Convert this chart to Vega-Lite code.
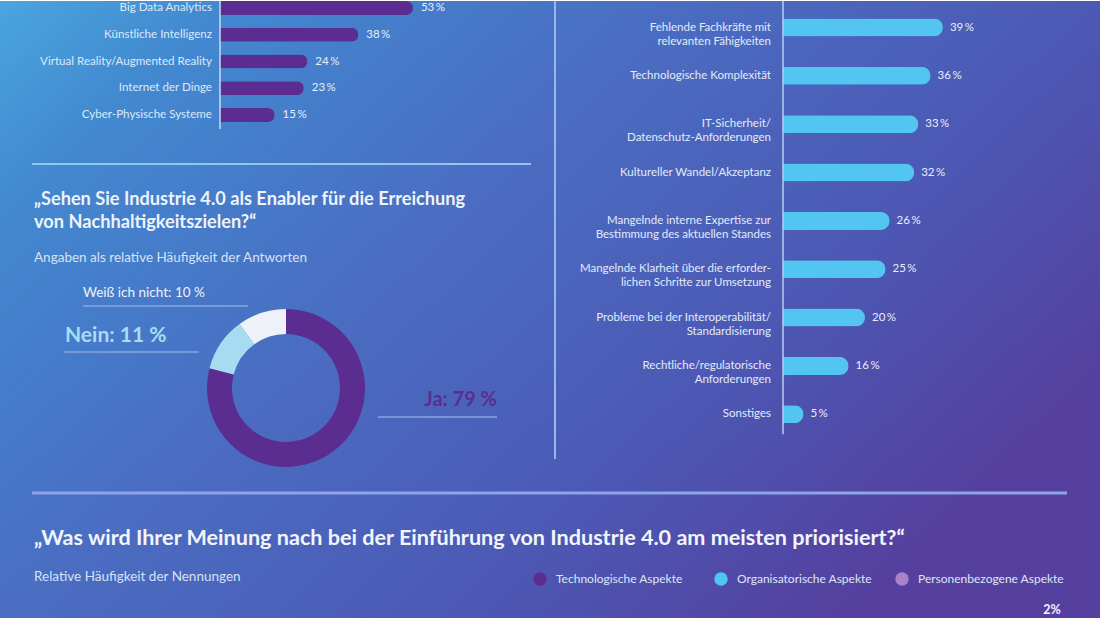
{
  "$schema": "https://vega.github.io/schema/vega-lite/v6.json",
  "width": 1100,
  "height": 618,
  "autosize": {"type": "fit", "contains": "padding"},
  "padding": 0,
  "config": {
    "view": {
      "stroke": null,
      "fill": {
        "gradient": "linear",
        "x1": 0, "y1": 0, "x2": 1, "y2": 0.6,
        "stops": [
          {"offset": 0, "color": "#4aa5de"},
          {"offset": 0.15, "color": "#4289d0"},
          {"offset": 0.45, "color": "#4a6dc2"},
          {"offset": 0.75, "color": "#4c58b4"},
          {"offset": 1, "color": "#55409f"}
        ]
      }
    },
    "text": {"font": "Lato", "color": "#e6eefa"},
    "locale": {
      "number": {"decimal": ",", "thousands": ".", "grouping": [3], "currency": ["", " €"], "percent": "\u2009%"}
    }
  },
  "datasets": {
    "technologien": [
      {"technologie": "Big Data Analytics", "anteil": 0.53},
      {"technologie": "Künstliche Intelligenz", "anteil": 0.38},
      {"technologie": "Virtual Reality/Augmented Reality", "anteil": 0.24},
      {"technologie": "Internet der Dinge", "anteil": 0.23},
      {"technologie": "Cyber-Physische Systeme", "anteil": 0.15}
    ],
    "hemmnisse": [
      {"hemmnis": "Fehlende Fachkräfte mit\nrelevanten Fähigkeiten", "anteil": 0.39},
      {"hemmnis": "Technologische Komplexität", "anteil": 0.36},
      {"hemmnis": "IT-Sicherheit/\nDatenschutz-Anforderungen", "anteil": 0.33},
      {"hemmnis": "Kultureller Wandel/Akzeptanz", "anteil": 0.32},
      {"hemmnis": "Mangelnde interne Expertise zur\nBestimmung des aktuellen Standes", "anteil": 0.26},
      {"hemmnis": "Mangelnde Klarheit über die erforder-\nlichen Schritte zur Umsetzung", "anteil": 0.25},
      {"hemmnis": "Probleme bei der Interoperabilität/\nStandardisierung", "anteil": 0.20},
      {"hemmnis": "Rechtliche/regulatorische\nAnforderungen", "anteil": 0.16},
      {"hemmnis": "Sonstiges", "anteil": 0.05}
    ],
    "enabler": [
      {"antwort": "Ja", "anteil": 0.79},
      {"antwort": "Nein", "anteil": 0.11},
      {"antwort": "Weiß ich nicht", "anteil": 0.10}
    ],
    "aspekte": [
      {"aspekt": "Technologische Aspekte"},
      {"aspekt": "Organisatorische Aspekte"},
      {"aspekt": "Personenbezogene Aspekte"}
    ]
  },
  "layer": [
    {
      "data": {"name": "technologien"},
      "encoding": {
        "y": {
          "field": "technologie", "type": "nominal",
          "scale": {"type": "point", "range": [7, 114], "padding": 0,
            "domain": ["Big Data Analytics", "Künstliche Intelligenz", "Virtual Reality/Augmented Reality", "Internet der Dinge", "Cyber-Physische Systeme"]},
          "axis": null
        }
      },
      "layer": [
        {
          "mark": {"type": "bar", "size": 14, "cornerRadiusEnd": 7, "color": "#5b2d90"},
          "encoding": {
            "x": {"field": "anteil", "type": "quantitative", "scale": {"domain": [0, 1], "range": [220, 584], "nice": false}, "axis": null}
          }
        },
        {
          "mark": {"type": "text", "align": "left", "baseline": "middle", "dx": 8, "fontSize": 11.5},
          "encoding": {
            "x": {"field": "anteil", "type": "quantitative", "axis": null},
            "text": {"field": "anteil", "type": "quantitative", "format": ".0%"}
          }
        },
        {
          "mark": {"type": "text", "align": "right", "baseline": "middle", "dx": -8, "fontSize": 11.6, "color": "#dce9f8"},
          "encoding": {
            "x": {"datum": 0, "type": "quantitative", "axis": null},
            "text": {"field": "technologie"}
          }
        },
        {
          "data": {"values": [{}]},
          "mark": {"type": "rule", "color": "#c3dcf5", "strokeWidth": 1.5, "yOffset": -7, "y2Offset": 14},
          "encoding": {
            "x": {"datum": 0, "type": "quantitative", "axis": null},
            "y": {"datum": "Big Data Analytics", "type": "nominal", "axis": null},
            "y2": {"datum": "Cyber-Physische Systeme"}
          }
        }
      ]
    },
    {
      "data": {"name": "hemmnisse"},
      "encoding": {
        "y": {
          "field": "hemmnis", "type": "nominal",
          "scale": {"type": "point", "range": [26.5, 413.3], "padding": 0,
            "domain": [
              "Fehlende Fachkräfte mit\nrelevanten Fähigkeiten",
              "Technologische Komplexität",
              "IT-Sicherheit/\nDatenschutz-Anforderungen",
              "Kultureller Wandel/Akzeptanz",
              "Mangelnde interne Expertise zur\nBestimmung des aktuellen Standes",
              "Mangelnde Klarheit über die erforder-\nlichen Schritte zur Umsetzung",
              "Probleme bei der Interoperabilität/\nStandardisierung",
              "Rechtliche/regulatorische\nAnforderungen",
              "Sonstiges"
            ]},
          "axis": null
        }
      },
      "layer": [
        {
          "mark": {"type": "bar", "size": 18, "cornerRadiusEnd": 9, "color": "#52c5f0"},
          "encoding": {
            "x": {"field": "anteil", "type": "quantitative", "scale": {"domain": [0, 1], "range": [783, 1193], "nice": false}, "axis": null}
          }
        },
        {
          "mark": {"type": "text", "align": "left", "baseline": "middle", "dx": 7, "fontSize": 11.5},
          "encoding": {
            "x": {"field": "anteil", "type": "quantitative", "axis": null},
            "text": {"field": "anteil", "type": "quantitative", "format": ".0%"}
          }
        },
        {
          "mark": {"type": "text", "align": "right", "baseline": "middle", "dx": -12, "fontSize": 11.5, "lineBreak": "\n", "lineHeight": 14, "color": "#e2ebf9"},
          "encoding": {
            "x": {"datum": 0, "type": "quantitative", "axis": null},
            "text": {"field": "hemmnis"}
          }
        },
        {
          "data": {"values": [{}]},
          "mark": {"type": "rule", "color": "#b8cdf2", "strokeWidth": 1.5, "yOffset": -26.5, "y2Offset": 20},
          "encoding": {
            "x": {"datum": 0, "type": "quantitative", "axis": null},
            "y": {"datum": "Fehlende Fachkräfte mit\nrelevanten Fähigkeiten", "type": "nominal", "axis": null},
            "y2": {"datum": "Sonstiges"}
          }
        }
      ]
    },
    {
      "data": {"values": [{}]},
      "layer": [
        {
          "mark": {"type": "rule", "color": "#8fc5f0", "strokeWidth": 2},
          "encoding": {
            "x": {"datum": 32, "type": "quantitative", "scale": {"domain": [0, 1100], "range": [0, 1100], "nice": false, "zero": false}, "axis": null},
            "x2": {"datum": 531},
            "y": {"datum": 163, "type": "quantitative", "scale": {"domain": [0, 618], "range": [0, 618], "nice": false, "zero": false}, "axis": null}
          }
        },
        {
          "mark": {"type": "rule", "color": "#9ab6ee", "strokeWidth": 2},
          "encoding": {
            "x": {"datum": 555, "type": "quantitative", "axis": null},
            "y": {"datum": 0, "type": "quantitative", "axis": null},
            "y2": {"datum": 458}
          }
        },
        {
          "mark": {"type": "rule", "color": "#8fa3e8", "strokeWidth": 3},
          "encoding": {
            "x": {"datum": 32, "type": "quantitative", "axis": null},
            "x2": {"datum": 1067},
            "y": {"datum": 492, "type": "quantitative", "axis": null}
          }
        },
        {
          "mark": {"type": "text", "align": "left", "baseline": "middle", "fontSize": 18.2, "fontWeight": "bold", "lineHeight": 23, "color": "#eef3fb",
            "text": ["„Sehen Sie Industrie 4.0 als Enabler für die Erreichung", "von Nachhaltigkeitszielen?“"]},
          "encoding": {
            "x": {"datum": 34, "type": "quantitative", "axis": null},
            "y": {"datum": 199, "type": "quantitative", "axis": null}
          }
        },
        {
          "mark": {"type": "text", "align": "left", "baseline": "middle", "fontSize": 13.5, "color": "#d5e2f5",
            "text": "Angaben als relative Häufigkeit der Antworten"},
          "encoding": {
            "x": {"datum": 34, "type": "quantitative", "axis": null},
            "y": {"datum": 257, "type": "quantitative", "axis": null}
          }
        },
        {
          "data": {"name": "enabler"},
          "mark": {"type": "arc", "outerRadius": 79, "innerRadius": 54},
          "encoding": {
            "x": {"datum": 286, "type": "quantitative", "axis": null},
            "y": {"datum": 387, "type": "quantitative", "axis": null},
            "theta": {"field": "anteil", "type": "quantitative", "stack": true},
            "order": {"field": "anteil", "sort": "descending"},
            "color": {"field": "antwort", "type": "nominal",
              "scale": {"domain": ["Ja", "Nein", "Weiß ich nicht"], "range": ["#5b2d90", "#a6dbf2", "#eef2f8"]},
              "legend": null}
          }
        },
        {
          "mark": {"type": "rule", "color": "#86a6e2", "strokeWidth": 1.5},
          "encoding": {
            "x": {"datum": 83, "type": "quantitative", "axis": null},
            "x2": {"datum": 248},
            "y": {"datum": 305, "type": "quantitative", "axis": null}
          }
        },
        {
          "mark": {"type": "rule", "color": "#86a6e2", "strokeWidth": 1.5},
          "encoding": {
            "x": {"datum": 64, "type": "quantitative", "axis": null},
            "x2": {"datum": 199},
            "y": {"datum": 351, "type": "quantitative", "axis": null}
          }
        },
        {
          "mark": {"type": "rule", "color": "#86a6e2", "strokeWidth": 1.5},
          "encoding": {
            "x": {"datum": 378, "type": "quantitative", "axis": null},
            "x2": {"datum": 497},
            "y": {"datum": 416, "type": "quantitative", "axis": null}
          }
        },
        {
          "mark": {"type": "text", "align": "left", "baseline": "middle", "fontSize": 13.5, "color": "#eef3fb", "text": "Weiß ich nicht: 10 %"},
          "encoding": {
            "x": {"datum": 83, "type": "quantitative", "axis": null},
            "y": {"datum": 292, "type": "quantitative", "axis": null}
          }
        },
        {
          "mark": {"type": "text", "align": "left", "baseline": "middle", "fontSize": 21, "fontWeight": "bold", "color": "#a9dcf3", "text": "Nein: 11 %"},
          "encoding": {
            "x": {"datum": 65, "type": "quantitative", "axis": null},
            "y": {"datum": 335, "type": "quantitative", "axis": null}
          }
        },
        {
          "mark": {"type": "text", "align": "right", "baseline": "middle", "fontSize": 20, "fontWeight": "bold", "color": "#5b2d90", "text": "Ja: 79 %"},
          "encoding": {
            "x": {"datum": 497, "type": "quantitative", "axis": null},
            "y": {"datum": 399, "type": "quantitative", "axis": null}
          }
        },
        {
          "mark": {"type": "text", "align": "left", "baseline": "middle", "fontSize": 21.6, "fontWeight": "bold", "color": "#f1f5fc",
            "text": "„Was wird Ihrer Meinung nach bei der Einführung von Industrie 4.0 am meisten priorisiert?“"},
          "encoding": {
            "x": {"datum": 34, "type": "quantitative", "axis": null},
            "y": {"datum": 538, "type": "quantitative", "axis": null}
          }
        },
        {
          "mark": {"type": "text", "align": "left", "baseline": "middle", "fontSize": 13.5, "color": "#d5e2f5", "text": "Relative Häufigkeit der Nennungen"},
          "encoding": {
            "x": {"datum": 34, "type": "quantitative", "axis": null},
            "y": {"datum": 576, "type": "quantitative", "axis": null}
          }
        },
        {
          "mark": {"type": "text", "align": "center", "baseline": "middle", "fontSize": 12.5, "fontWeight": "bold", "color": "#f1f5fc", "text": "2%"},
          "encoding": {
            "x": {"datum": 1052, "type": "quantitative", "axis": null},
            "y": {"datum": 609, "type": "quantitative", "axis": null}
          }
        }
      ]
    },
    {
      "data": {"name": "aspekte"},
      "encoding": {
        "x": {"field": "aspekt", "type": "nominal",
          "scale": {"type": "point", "range": [540, 902], "padding": 0,
            "domain": ["Technologische Aspekte", "Organisatorische Aspekte", "Personenbezogene Aspekte"]},
          "axis": null},
        "y": {"datum": 578, "type": "quantitative", "scale": {"domain": [0, 618], "range": [0, 618], "nice": false, "zero": false}, "axis": null}
      },
      "layer": [
        {
          "mark": {"type": "point", "filled": true, "opacity": 1, "size": 180},
          "encoding": {
            "color": {"field": "aspekt", "type": "nominal",
              "scale": {"domain": ["Technologische Aspekte", "Organisatorische Aspekte", "Personenbezogene Aspekte"], "range": ["#5b2d90", "#4fc6f0", "#a883c8"]},
              "legend": null}
          }
        },
        {
          "mark": {"type": "text", "align": "left", "baseline": "middle", "dx": 16, "fontSize": 12, "color": "#dce6f6"},
          "encoding": {"text": {"field": "aspekt"}}
        }
      ]
    }
  ],
  "resolve": {"scale": {"x": "independent", "y": "independent", "color": "independent", "theta": "independent"}}
}
